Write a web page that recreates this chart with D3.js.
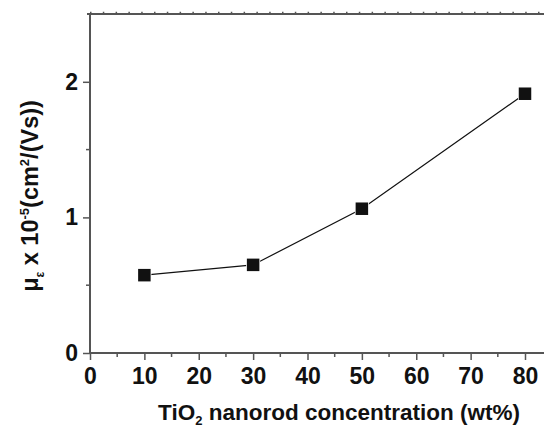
<!DOCTYPE html>
<html>
<head>
<meta charset="utf-8">
<script src="https://cdn.jsdelivr.net/npm/d3@7"></script>
<style>
  body { margin: 0; background: #fff; }
  svg text { font-family: "Liberation Sans", Arial, sans-serif; font-weight: bold; fill: #111; }
</style>
</head>
<body>
<div id="chart"></div>
<script>
// data
var concentration = [10, 30, 50, 80];
var mobility = [0.574, 0.650, 1.064, 1.912];
var xTicks = [0, 10, 20, 30, 40, 50, 60, 70, 80];
var yTicks = [0, 1, 2];

var W = 544, H = 430;
var margin = { top: 14, left: 90, bottom: 77 };

var x = d3.scaleLinear().domain([0, 80]).range([margin.left, 525]);
var y = d3.scaleLinear().domain([0, 2.5]).range([H - margin.bottom, margin.top]);

var svg = d3.select("#chart").append("svg")
    .attr("width", W)
    .attr("height", H);

var axisColor = "#555";

// bottom axis, major ticks
var xAxis = d3.axisBottom(x).tickValues(xTicks).tickSize(7).tickPadding(8).tickFormat(d3.format("d"));
var gx = svg.append("g")
    .attr("transform", `translate(0,${y(0)})`)
    .call(xAxis);
gx.select(".domain").attr("stroke", axisColor).attr("stroke-width", 2).attr("d", `M${x(0) - 1},0H${W}`);
gx.selectAll(".tick line").attr("stroke", axisColor).attr("stroke-width", 1.5);
gx.selectAll(".tick text").attr("font-size", 23).attr("fill", "#111");

// bottom minor ticks
svg.append("g")
    .selectAll("line")
    .data(d3.range(5, 85, 10))
    .join("line")
    .attr("x1", (d) => x(d)).attr("x2", (d) => x(d))
    .attr("y1", y(0)).attr("y2", y(0) + 4)
    .attr("stroke", axisColor).attr("stroke-width", 1.5);

// left axis
var yAxis = d3.axisLeft(y).tickValues(yTicks).tickSize(7).tickPadding(5).tickFormat(d3.format("d"));
var gy = svg.append("g")
    .attr("transform", `translate(${x(0)},0)`)
    .call(yAxis);
gy.select(".domain").attr("stroke", axisColor).attr("stroke-width", 2).attr("d", `M0,${y(0)}V${y(2.5)}`);
gy.selectAll(".tick line").attr("stroke", axisColor).attr("stroke-width", 1.5);
gy.selectAll(".tick text").attr("font-size", 23).attr("fill", "#111");

// left minor ticks
svg.append("g")
    .selectAll("line")
    .data([0.5, 1.5])
    .join("line")
    .attr("x1", x(0) - 4).attr("x2", x(0))
    .attr("y1", (d) => y(d)).attr("y2", (d) => y(d))
    .attr("stroke", axisColor).attr("stroke-width", 1.5);

// top border with its small tick marks
svg.append("line")
    .attr("x1", x(0) - 3).attr("x2", W)
    .attr("y1", y(2.5)).attr("y2", y(2.5))
    .attr("stroke", axisColor).attr("stroke-width", 2);
svg.append("line")
    .attr("x1", x(0)).attr("x2", W)
    .attr("y1", y(2.5) - 1.5).attr("y2", y(2.5) - 1.5)
    .attr("stroke", axisColor).attr("stroke-width", 1.5)
    .attr("stroke-dasharray", "1.5,11.3");

// the series line
var line = d3.line()
    .x((d, i) => x(concentration[i]))
    .y((d) => y(d));

svg.append("path")
    .datum(mobility)
    .attr("d", line)
    .attr("fill", "none")
    .attr("stroke", "#111")
    .attr("stroke-width", 1.2);

// square markers
var s = 12.5;
svg.append("g")
    .selectAll("rect")
    .data(mobility)
    .join("rect")
    .attr("x", (d, i) => x(concentration[i]) - s / 2)
    .attr("y", (d) => y(d) - s / 2)
    .attr("width", s)
    .attr("height", s)
    .attr("fill", "#111")
    .attr("stroke", "#fff")
    .attr("stroke-width", 1.5)
    .attr("paint-order", "stroke");

// x axis title
var xt = svg.append("text")
    .attr("x", 339)
    .attr("y", 420)
    .attr("text-anchor", "middle")
    .attr("font-size", 22.5);
xt.append("tspan").text("TiO");
xt.append("tspan").attr("font-size", 13).attr("dy", 5).text("2");
xt.append("tspan").attr("dy", -5).text(" nanorod concentration (wt%)");

// y axis title
var yt = svg.append("text")
    .attr("transform", "translate(38,196) rotate(-90)")
    .attr("text-anchor", "middle")
    .attr("font-size", 23.5);
yt.append("tspan").text("\u03bc");
yt.append("tspan").attr("font-size", 12).attr("dy", 6).text("\u03b5");
yt.append("tspan").attr("dy", -6).text(" x 10");
yt.append("tspan").attr("font-size", 13).attr("dy", -9).text("-5");
yt.append("tspan").attr("dy", 9).text("(cm");
yt.append("tspan").attr("font-size", 13).attr("dy", -9).text("2");
yt.append("tspan").attr("dy", 9).text("/(Vs))");
</script>
</body>
</html>
